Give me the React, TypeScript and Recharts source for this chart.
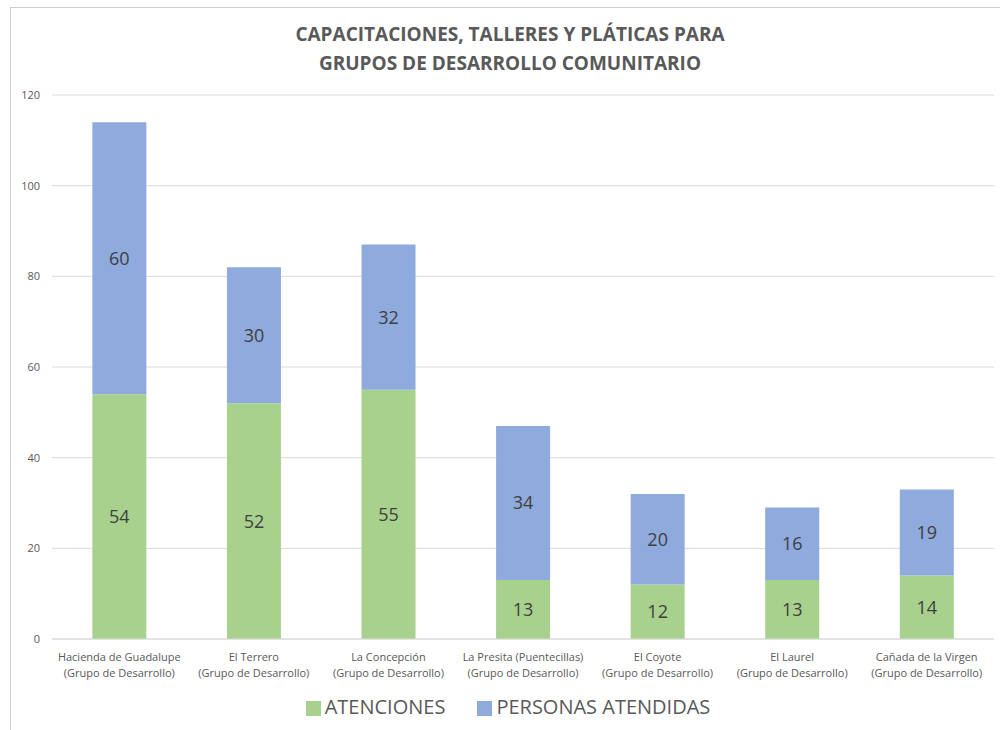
import { BarChart, Bar, XAxis, YAxis, CartesianGrid, Legend, LabelList } from 'recharts'

const grupos = [
  'Hacienda de Guadalupe',
  'El Terrero',
  'La Concepción',
  'La Presita (Puentecillas)',
  'El Coyote',
  'El Laurel',
  'Cañada de la Virgen',
]
const atenciones = [54, 52, 55, 13, 12, 13, 14]
const personasAtendidas = [60, 30, 32, 34, 20, 16, 19]
const yTicks = [0, 20, 40, 60, 80, 100, 120]

const data = grupos.map((g, i) => ({
  name: g,
  atenciones: atenciones[i],
  personas: personasAtendidas[i],
}))

const FONT = '"Open Sans", "Noto Sans", sans-serif'
const TEXT = '#595959'

function GrupoTick(props: any) {
  const { x, y, payload } = props
  return (
    <text x={x} y={y} textAnchor="middle" fill={TEXT} fontSize={11} fontFamily={FONT}>
      <tspan x={x} dy={14}>{payload.value}</tspan>
      <tspan x={x} dy={16}>(Grupo de Desarrollo)</tspan>
    </text>
  )
}

export default function App() {
  return (
    <div style={{ position: 'absolute', left: 0, top: 0, width: 1000, height: 730, background: '#fff', fontFamily: FONT }}>
      <div
        style={{
          position: 'absolute',
          left: 10,
          top: 7,
          width: 1000,
          height: 740,
          borderLeft: '1px solid #d0d0d0',
          borderTop: '1px solid #d0d0d0',
        }}
      />
      <div
        style={{
          position: 'absolute',
          left: 0,
          top: 20,
          width: 1020,
          textAlign: 'center',
          fontWeight: 'bold',
          fontSize: 19,
          lineHeight: '29px',
          color: TEXT,
        }}
      >
        CAPACITACIONES, TALLERES Y PLÁTICAS PARA
        <br />
        GRUPOS DE DESARROLLO COMUNITARIO
      </div>
      <div style={{ position: 'absolute', left: 0, top: 0 }}>
        <BarChart
          width={1000}
          height={730}
          data={data}
          margin={{ top: 95, right: 6, left: 0, bottom: 4 }}
          barCategoryGap="30%"
        >
          <CartesianGrid vertical={false} stroke="#d9d9d9" />
          <XAxis
            dataKey="name"
            tick={<GrupoTick />}
            tickLine={false}
            axisLine={{ stroke: '#d9d9d9' }}
            interval={0}
            height={60}
          />
          <YAxis
            width={52}
            domain={[0, 120]}
            ticks={yTicks}
            tickLine={false}
            axisLine={false}
            tickMargin={6}
            tick={{ fill: TEXT, fontSize: 11, fontFamily: FONT }}
          />
          <Legend
            verticalAlign="bottom"
            iconType="square"
            iconSize={15}
            wrapperStyle={{ top: 693, left: 24, width: 1000, fontSize: 20, fontFamily: FONT }}
            formatter={(v) => <span style={{ color: TEXT, marginRight: 22 }}>{v}</span>}
          />
          <Bar dataKey="atenciones" name="ATENCIONES" stackId="a" fill="#a9d18e" isAnimationActive={false}>
            <LabelList dataKey="atenciones" position="center" fill="#404040" fontSize={18} fontFamily={FONT} />
          </Bar>
          <Bar dataKey="personas" name="PERSONAS ATENDIDAS" stackId="a" fill="#8faadc" isAnimationActive={false}>
            <LabelList dataKey="personas" position="center" fill="#404040" fontSize={18} fontFamily={FONT} />
          </Bar>
        </BarChart>
      </div>
    </div>
  )
}
